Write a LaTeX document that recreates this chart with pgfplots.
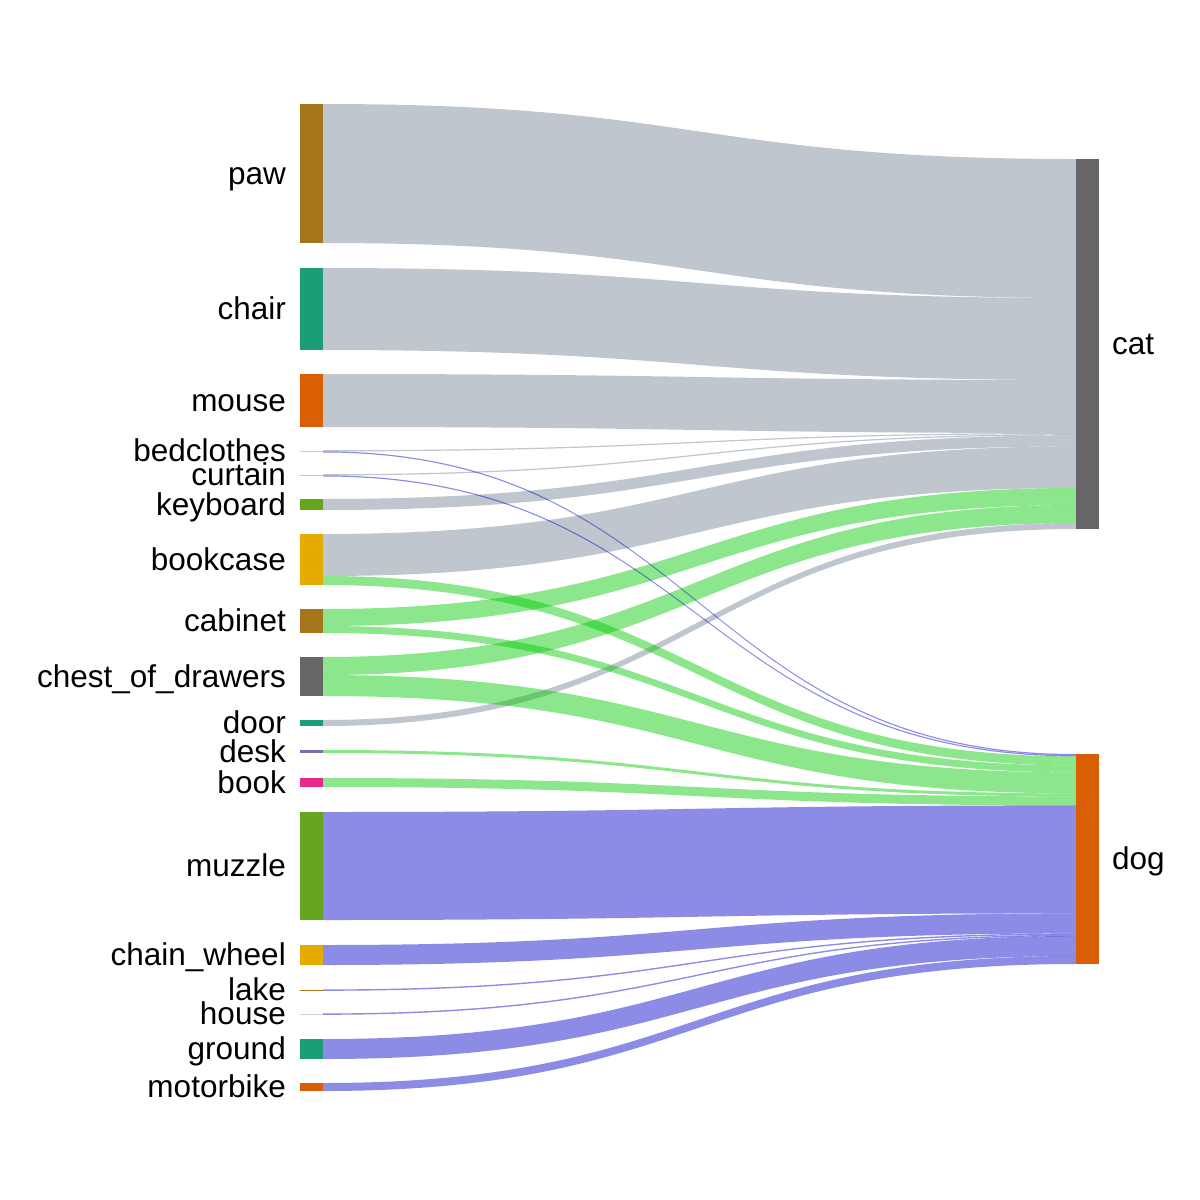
\documentclass[border=0pt]{standalone}
\usepackage{pgfplots}
\pgfplotsset{compat=1.18}
\usepackage{fontspec}
\setmainfont{Liberation Sans}

\definecolor{dteal}{HTML}{1B9E77}
\definecolor{dorange}{HTML}{D95F02}
\definecolor{dpurple}{HTML}{7570B3}
\definecolor{dpink}{HTML}{E7298A}
\definecolor{dgreen}{HTML}{66A61E}
\definecolor{dgold}{HTML}{E6AB02}
\definecolor{dbrown}{HTML}{A6761D}
\definecolor{dgray}{HTML}{666666}
\definecolor{lgray}{RGB}{112,128,144}
\definecolor{lgreen}{RGB}{0,200,0}
\definecolor{lblue}{RGB}{0,0,200}

% link: source top, source bottom, target top, target bottom, colour
\newcommand{\flow}[5]{%
  \fill[#5, fill opacity=0.45]
    (axis cs:323,#1) .. controls (axis cs:699.5,#1) and (axis cs:699.5,#3) .. (axis cs:1076,#3)
    -- (axis cs:1076,#4) .. controls (axis cs:699.5,#4) and (axis cs:699.5,#2) .. (axis cs:323,#2) -- cycle;}
% node box: x0, x1, top, bottom, colour
\newcommand{\snode}[5]{%
  \addplot[fill=#5, draw=none] coordinates {(#1,#3) (#2,#3) (#2,#4) (#1,#4)} -- cycle;}
\newcommand{\lfont}{\fontsize{31.5bp}{36bp}\selectfont}
\newcommand{\llab}[2]{\node[anchor=base east, inner sep=0pt, font=\lfont] at (axis cs:286,#1) {#2};}
\newcommand{\rlab}[2]{\node[anchor=base west, inner sep=0pt, font=\lfont] at (axis cs:1112,#1) {#2};}

\begin{document}
\begin{tikzpicture}
\begin{axis}[
  width=1200bp, height=1200bp, scale only axis,
  xmin=0, xmax=1200, ymin=0, ymax=1200,
  y dir=reverse,
  hide axis, clip=false,
]
\path (axis cs:0,0) rectangle (axis cs:1200,1200);

% links to cat
\flow{104}{243}{159}{298}{lgray}
\flow{268}{350}{298}{380}{lgray}
\flow{374}{427}{380}{433}{lgray}
\flow{450.2}{451.4}{433}{434.2}{lgray}
\flow{474.2}{475.4}{434.2}{435.4}{lgray}
\flow{499}{510}{435.4}{446.4}{lgray}
\flow{534}{576}{446.4}{488}{lgray}
\flow{609}{626}{488}{505}{lgreen}
\flow{657}{675}{505}{523}{lgreen}
\flow{720}{726}{523}{529}{lgray}
% links to dog
\flow{451.3}{452.5}{754}{755.2}{lblue}
\flow{475.3}{476.5}{755.2}{756.4}{lblue}
\flow{576}{585}{756.4}{765.4}{lgreen}
\flow{626}{633}{765.4}{772.4}{lgreen}
\flow{675}{696}{772.4}{793.4}{lgreen}
\flow{750}{753}{793.4}{796.4}{lgreen}
\flow{778}{787}{796.4}{805.4}{lgreen}
\flow{812}{920}{805.4}{913.4}{lblue}
\flow{945}{965}{913.4}{933.4}{lblue}
\flow{989.4}{990.8}{933.4}{934.8}{lblue}
\flow{1013.4}{1014.8}{934.8}{936.2}{lblue}
\flow{1039}{1059}{936}{956}{lblue}
\flow{1083}{1091}{956}{964}{lblue}

% source nodes
\snode{300}{323}{104}{243}{dbrown}
\snode{300}{323}{268}{350}{dteal}
\snode{300}{323}{374}{427}{dorange}
\snode{300}{323}{451.2}{451.6}{dpurple!40}
\snode{300}{323}{475.2}{475.6}{dpink!40}
\snode{300}{323}{499}{510}{dgreen}
\snode{300}{323}{534}{585}{dgold}
\snode{300}{323}{609}{633}{dbrown}
\snode{300}{323}{657}{696}{dgray}
\snode{300}{323}{720}{726}{dteal}
\snode{300}{323}{750}{753}{dpurple}
\snode{300}{323}{778}{787}{dpink}
\snode{300}{323}{812}{920}{dgreen}
\snode{300}{323}{945}{965}{dgold}
\snode{300}{323}{989.6}{990.6}{dbrown}
\snode{300}{323}{1013.9}{1014.3}{dgray!30}
\snode{300}{323}{1039}{1059}{dteal}
\snode{300}{323}{1083}{1091}{dorange}
% target nodes
\snode{1076}{1099}{159}{529}{dgray}
\snode{1076}{1099}{754}{964}{dorange}

% labels
\llab{184}{paw}
\llab{319.5}{chair}
\llab{411}{mouse}
\llab{461.5}{bedclothes}
\llab{485.5}{curtain}
\llab{515}{keyboard}
\llab{570}{bookcase}
\llab{631.5}{cabinet}
\llab{687}{chest\_of\_drawers}
\llab{733.5}{door}
\llab{762}{desk}
\llab{793}{book}
\llab{876.5}{muzzle}
\llab{965.5}{chain\_wheel}
\llab{1000.5}{lake}
\llab{1024.5}{house}
\llab{1059.5}{ground}
\llab{1097.5}{motorbike}
\rlab{354.5}{cat}
\rlab{869.5}{dog}
\end{axis}
\end{tikzpicture}
\end{document}
